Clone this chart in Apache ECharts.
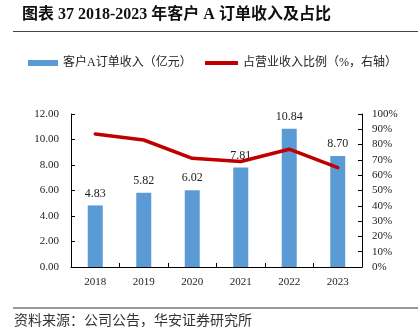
<!DOCTYPE html>
<html><head><meta charset="utf-8">
<script src="https://cdn.jsdelivr.net/npm/echarts@6/dist/echarts.min.js"></script>
<style>html,body{margin:0;padding:0;background:#fff}#c{width:418px;height:331px}</style>
</head><body><div id="c"></div>
<script>
const categories = ['2018','2019','2020','2021','2022','2023'];
const revenue = [4.83, 5.82, 6.02, 7.81, 10.84, 8.70];
const share = [87, 83, 71, 69, 77, 65];
const leftTicks = {min: 0, max: 12, interval: 2};
const rightTicks = {min: 0, max: 100, interval: 10};
const titleText = '图表 37 2018-2023 年客户 A 订单收入及占比';
const sourceText = '资料来源：公司公告，华安证券研究所';
const barName = '客户A订单收入（亿元）';
const lineName = '占营业收入比例（%，右轴）';

const serif = '"Liberation Serif","Noto Sans CJK SC",serif';
const chart = echarts.init(document.getElementById('c'), null, {renderer: 'canvas'});
chart.setOption({
  animation: false,
  title: {text: titleText, left: 22, top: 7, padding: 0, textStyle: {fontFamily: serif, fontSize: 16, fontWeight: 'bold', color: '#111'}},
  graphic: [
    {type: 'line', shape: {x1: 13, y1: 31.5, x2: 418, y2: 31.5}, style: {stroke: '#444', lineWidth: 1}},
    {type: 'line', shape: {x1: 13, y1: 308, x2: 418, y2: 308}, style: {stroke: '#999', lineWidth: 2}},
    {type: 'text', left: 14, top: 314, style: {text: sourceText, font: '14px ' + serif, fill: '#333'}}
  ],
  legend: [
    {data: [barName], left: 28, top: 57, padding: 0, itemWidth: 30, itemHeight: 6, itemGap: 5, icon: 'rect',
     textStyle: {fontFamily: serif, fontSize: 12, color: '#222'}},
    {data: [lineName], left: 205, top: 57, padding: 0, itemWidth: 33, itemHeight: 4, itemGap: 5, icon: 'rect',
     textStyle: {fontFamily: serif, fontSize: 12, color: '#222'}}
  ],
  grid: {left: 71, right: 56, top: 114, bottom: 64},
  xAxis: {
    type: 'category', data: categories,
    axisLine: {lineStyle: {color: '#000', width: 1}},
    axisTick: {show: true, inside: true, length: 4, lineStyle: {color: '#000'}},
    axisLabel: {fontFamily: serif, fontSize: 11, color: '#222', margin: 10}
  },
  yAxis: [
    {type: 'value', min: leftTicks.min, max: leftTicks.max, interval: leftTicks.interval,
     axisLine: {show: true, lineStyle: {color: '#000'}},
     axisTick: {show: true, inside: true, length: 4, lineStyle: {color: '#000'}},
     splitLine: {show: false},
     axisLabel: {fontFamily: serif, fontSize: 11, color: '#222', margin: 12, formatter: v => v.toFixed(2)}},
    {type: 'value', min: rightTicks.min, max: rightTicks.max, interval: rightTicks.interval, position: 'right',
     axisLine: {show: true, lineStyle: {color: '#000'}},
     axisTick: {show: true, inside: true, length: 4, lineStyle: {color: '#000'}},
     splitLine: {show: false},
     axisLabel: {fontFamily: serif, fontSize: 11, color: '#222', margin: 10, formatter: v => v + '%'}}
  ],
  series: [
    {name: barName, type: 'bar', data: revenue, barWidth: 15, yAxisIndex: 0,
     itemStyle: {color: '#5b9bd5'},
     label: {show: true, position: 'top', distance: 6, fontFamily: serif, fontSize: 12, color: '#222',
             formatter: p => p.value.toFixed(2)}},
    {name: lineName, type: 'line', data: share, yAxisIndex: 1, symbol: 'none',
     lineStyle: {color: '#c00000', width: 3.5, cap: 'round', join: 'round'},
     itemStyle: {color: '#c00000'}}
  ]
});
</script></body></html>
